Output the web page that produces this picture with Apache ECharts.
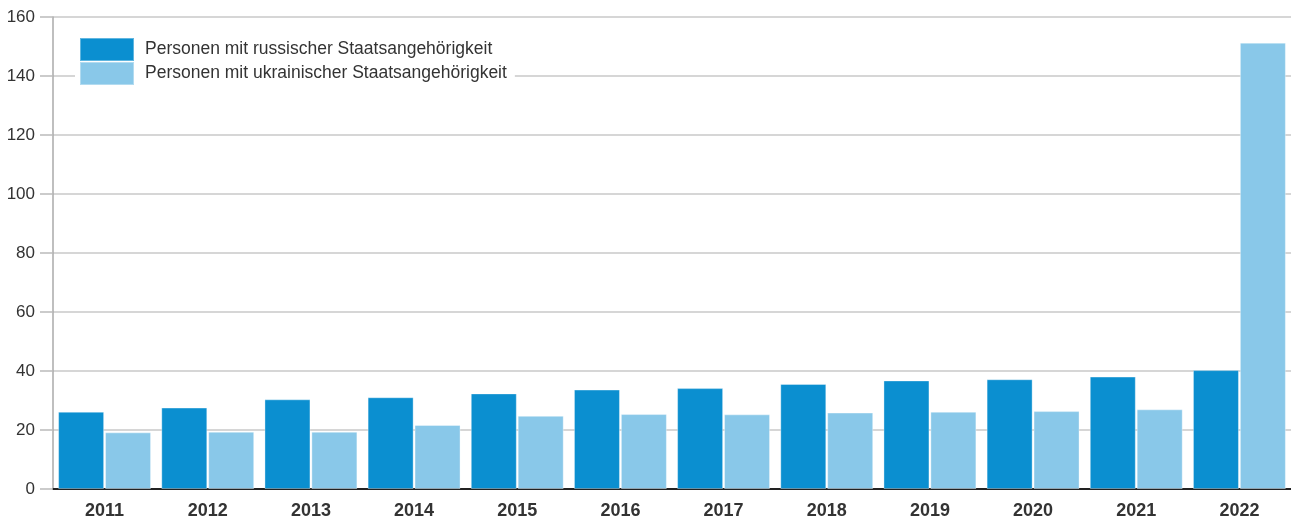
<!DOCTYPE html>
<html><head><meta charset="utf-8">
<script src="https://cdn.jsdelivr.net/npm/echarts@6/dist/echarts.min.js"></script>
<style>html,body{margin:0;padding:0;background:#fff}#c{width:1291px;height:520px}</style>
</head><body><div id="c"></div>
<script>
const years = ['2011','2012','2013','2014','2015','2016','2017','2018','2019','2020','2021','2022'];
const russianValues = [26.2, 27.6, 30.4, 31.1, 32.4, 33.7, 34.2, 35.6, 36.8, 37.2, 38.1, 40.3];
const ukrainianValues = [19.2, 19.4, 19.4, 21.7, 24.8, 25.4, 25.3, 25.9, 26.2, 26.4, 27.0, 151.3];
const seriesNames = ['Personen mit russischer Staatsangehörigkeit','Personen mit ukrainischer Staatsangehörigkeit'];
const yTicks = [0, 20, 40, 60, 80, 100, 120, 140, 160];

const chart = echarts.init(document.getElementById('c'), null, {renderer:'canvas'});
chart.setOption({
  animation:false,
  textStyle:{fontFamily:'Liberation Sans, Arial, sans-serif'},
  grid:{left:53,right:0,top:17,bottom:31,containLabel:false},
  legend:{
    orient:'vertical',left:75,top:37,
    padding:[0,8,0,4],
    backgroundColor:'#ffffff',
    itemWidth:54,itemHeight:23,itemGap:-1,
    icon:'rect',
    textStyle:{fontSize:17.5,lineHeight:20,color:'#333',fontFamily:'Liberation Sans, Arial, sans-serif',padding:[0,0,0,6]},
    data:seriesNames
  },
  xAxis:{
    type:'category',data:years,
    axisLine:{lineStyle:{color:'#222',width:2}},
    axisTick:{show:false},
    axisLabel:{fontSize:18,fontWeight:'bold',color:'#333',margin:13}
  },
  yAxis:{
    type:'value',min:yTicks[0],max:yTicks[yTicks.length-1],interval:20,
    axisLine:{show:true,lineStyle:{color:'#aaa',width:1.5}},
    axisTick:{show:true,length:13,lineStyle:{color:'#bbb',width:1.5}},
    splitLine:{show:true,lineStyle:{color:'#c8c8c8',width:1.5}},
    axisLabel:{fontSize:17,color:'#333',margin:18}
  },
  series:[
    {name:seriesNames[0],type:'bar',data:russianValues,barWidth:46,barGap:'2%',
     itemStyle:{color:'#0b8fd0',borderColor:'rgba(255,255,255,0.35)',borderWidth:1}},
    {name:seriesNames[1],type:'bar',data:ukrainianValues,barWidth:46,
     itemStyle:{color:'#89c8e9',borderColor:'rgba(255,255,255,0.35)',borderWidth:1}}
  ]
});
</script></body></html>
